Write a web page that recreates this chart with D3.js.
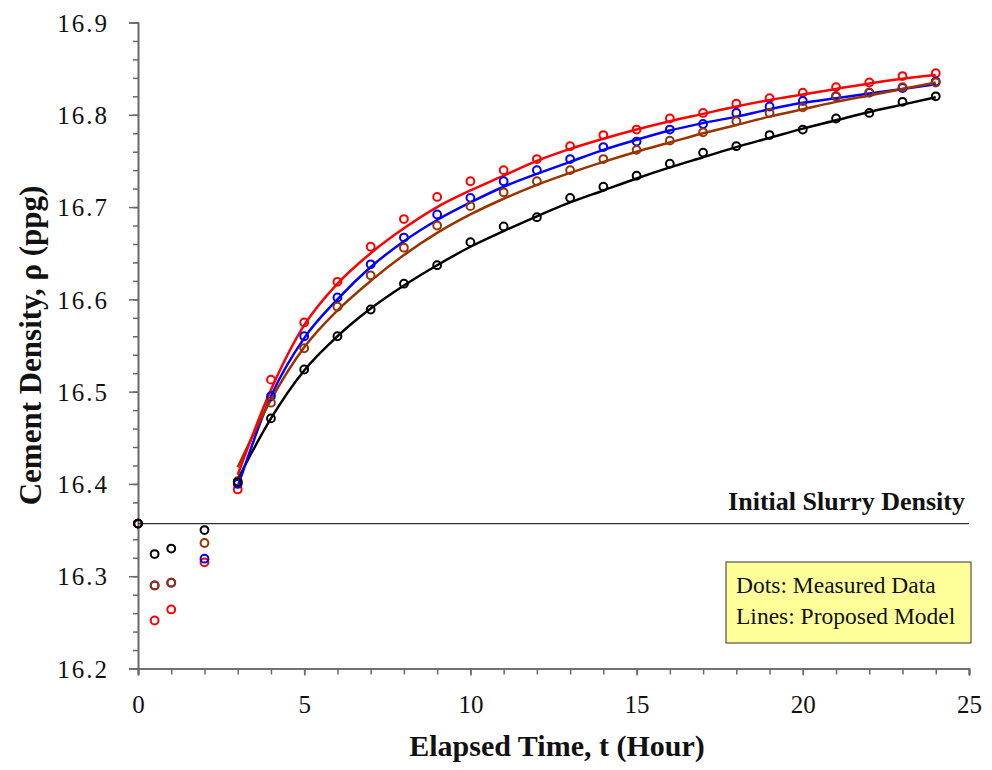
<!DOCTYPE html>
<html>
<head>
<meta charset="utf-8">
<script src="https://cdn.jsdelivr.net/npm/d3@7"></script>
<style>
  body { margin: 0; background: #fff; }
  svg { display: block; font-family: "Liberation Serif", "DejaVu Serif", serif; }
</style>
</head>
<body>
<div id="chart"></div>
<script>
// measured points (hours) and model curve hours
var hours = [0, 0.5, 1, 2, 3, 4, 5, 6, 7, 8, 9, 10, 11, 12, 13, 14, 15, 16, 17, 18, 19, 20, 21, 22, 23, 24];
var modelHours = [3, 4, 5, 6, 7, 8, 9, 10, 11, 12, 13, 14, 15, 16, 17, 18, 19, 20, 21, 22, 23, 24];

var blackMeasured = [16.357, 16.324, 16.330, 16.350, 16.402, 16.471, 16.524, 16.560, 16.589, 16.617, 16.637, 16.662, 16.679, 16.689, 16.710, 16.722, 16.734, 16.747, 16.759, 16.766, 16.778, 16.784, 16.796, 16.802, 16.814, 16.820];
var brownMeasured = [16.357, 16.290, 16.293, 16.336, 16.403, 16.488, 16.547, 16.592, 16.626, 16.656, 16.680, 16.701, 16.716, 16.728, 16.740, 16.752, 16.762, 16.772, 16.781, 16.793, 16.802, 16.808, 16.820, 16.824, 16.830, 16.835];
var blueMeasured  = [16.357, 16.290, 16.293, 16.319, 16.400, 16.495, 16.560, 16.602, 16.638, 16.667, 16.692, 16.710, 16.728, 16.740, 16.752, 16.765, 16.771, 16.784, 16.790, 16.802, 16.809, 16.815, 16.820, 16.824, 16.829, 16.836];
var redMeasured   = [16.357, 16.252, 16.264, 16.315, 16.394, 16.513, 16.575, 16.619, 16.657, 16.687, 16.711, 16.728, 16.740, 16.752, 16.766, 16.778, 16.784, 16.796, 16.802, 16.812, 16.818, 16.824, 16.830, 16.835, 16.842, 16.845];

var blackModel = [16.405, 16.471, 16.523, 16.560, 16.590, 16.615, 16.637, 16.657, 16.674, 16.690, 16.705, 16.718, 16.731, 16.743, 16.754, 16.765, 16.775, 16.785, 16.794, 16.803, 16.811, 16.819];
var brownModel = [16.418, 16.491, 16.548, 16.588, 16.620, 16.648, 16.672, 16.692, 16.709, 16.724, 16.737, 16.749, 16.760, 16.770, 16.780, 16.789, 16.798, 16.806, 16.814, 16.821, 16.828, 16.835];
var blueModel  = [16.397, 16.495, 16.558, 16.600, 16.635, 16.663, 16.686, 16.705, 16.722, 16.736, 16.749, 16.762, 16.773, 16.783, 16.791, 16.798, 16.806, 16.813, 16.818, 16.823, 16.828, 16.833];
var redModel   = [16.410, 16.502, 16.572, 16.617, 16.650, 16.677, 16.700, 16.718, 16.734, 16.750, 16.763, 16.774, 16.784, 16.793, 16.801, 16.809, 16.816, 16.822, 16.828, 16.834, 16.839, 16.843];

var initialDensity = 16.357;
var xTicks = [0, 5, 10, 15, 20, 25];
var yTicks = [16.2, 16.3, 16.4, 16.5, 16.6, 16.7, 16.8, 16.9];

var width = 992, height = 770;
var plotLeft = 138, plotRight = 969, plotTop = 22.5, plotBottom = 668.5;

var svg = d3.select("#chart").append("svg").attr("width", width).attr("height", height);

var x = d3.scaleLinear().domain([0, 25]).range([plotLeft, plotRight]);
var y = d3.scaleLinear().domain([16.2, 16.9]).range([plotBottom, plotTop]);

var axisColor = "#6a6a6a";

// y axis: major + minor ticks
var yAxis = svg.append("g").attr("transform", "translate(" + plotLeft + ",0)")
  .call(d3.axisLeft(y).tickValues(d3.range(16.2, 16.9001, 0.02)).tickSize(5).tickFormat(""));
yAxis.append("g").call(d3.axisLeft(y).tickValues(yTicks).tickSize(9).tickFormat(d3.format(".1f")));
yAxis.selectAll("path").attr("stroke", axisColor).attr("stroke-width", 1.6);
yAxis.selectAll("line").attr("stroke", axisColor).attr("stroke-width", 1.5);
yAxis.selectAll("text").attr("x", -29).attr("dy", "0.35em")
  .attr("fill", "#111").style("font-size", "25px").style("letter-spacing", "2px")
  .style("font-family", "'Liberation Serif', serif");

// x axis
var xAxis = svg.append("g").attr("transform", "translate(0," + plotBottom + ")")
  .call(d3.axisBottom(x).tickValues(d3.range(0, 26, 1)).tickSize(6).tickFormat(""));
xAxis.append("g").call(d3.axisBottom(x).tickValues(xTicks).tickSize(7).tickFormat(d3.format("d")));
xAxis.selectAll("path").attr("stroke", axisColor).attr("stroke-width", 1.6);
xAxis.selectAll("line").attr("stroke", axisColor).attr("stroke-width", 1.5);
xAxis.selectAll("text").attr("y", 27).attr("dy", "0.71em")
  .attr("fill", "#111").style("font-size", "25px")
  .style("font-family", "'Liberation Serif', serif");

// axis titles
svg.append("text").attr("x", 557).attr("y", 756)
  .attr("text-anchor", "middle").attr("font-weight", "bold").attr("font-size", 30)
  .attr("fill", "#111").text("Elapsed Time, t (Hour)");
svg.append("text").attr("transform", "translate(41," + ((plotTop + plotBottom) / 2) + ") rotate(-90)")
  .attr("text-anchor", "middle").attr("font-weight", "bold").attr("font-size", 31)
  .attr("fill", "#111").text("Cement Density, ρ (ppg)");

// initial slurry density reference line
svg.append("line").attr("x1", x(0)).attr("x2", x(25))
  .attr("y1", y(initialDensity)).attr("y2", y(initialDensity))
  .attr("stroke", "#333").attr("stroke-width", 1.2);
svg.append("text").attr("x", x(25) - 4).attr("y", y(initialDensity) - 14)
  .attr("text-anchor", "end").attr("font-weight", "bold").attr("font-size", 26)
  .attr("fill", "#111").text("Initial Slurry Density");

// legend box
var box = svg.append("g");
box.append("rect").attr("x", 726).attr("y", 562).attr("width", 245).attr("height", 81)
  .attr("fill", "#ffff99").attr("stroke", "#333").attr("stroke-width", 1);
box.append("text").attr("x", 736).attr("y", 593).attr("font-size", 23.5).attr("fill", "#111").text("Dots: Measured Data");
box.append("text").attr("x", 736).attr("y", 624).attr("font-size", 23.5).attr("fill", "#111").text("Lines: Proposed Model");

// model lines
var line = d3.line()
  .x(function(d, i) { return x(modelHours[i]); })
  .y(function(d) { return y(d); })
  .curve(d3.curveMonotoneX);

var lineSeries = [
  { values: blackModel, color: "#000000" },
  { values: blueModel,  color: "#0000ff" },
  { values: brownModel, color: "#993300" },
  { values: redModel,   color: "#ff0000" }
];
lineSeries.forEach(function(s) {
  svg.append("path").datum(s.values)
    .attr("fill", "none").attr("stroke", s.color).attr("stroke-width", 2.5)
    .attr("d", line);
});

// measured dots
var dotSeries = [
  { values: redMeasured,   color: "#ff0000" },
  { values: blueMeasured,  color: "#0000ff" },
  { values: brownMeasured, color: "#993300" },
  { values: blackMeasured, color: "#000000" }
];
dotSeries.forEach(function(s) {
  svg.append("g").selectAll("circle").data(s.values).enter().append("circle")
    .attr("cx", function(d, i) { return x(hours[i]); })
    .attr("cy", function(d) { return y(d); })
    .attr("r", 3.9)
    .attr("fill", "none").attr("stroke", s.color).attr("stroke-width", 2);
});
</script>
</body>
</html>
